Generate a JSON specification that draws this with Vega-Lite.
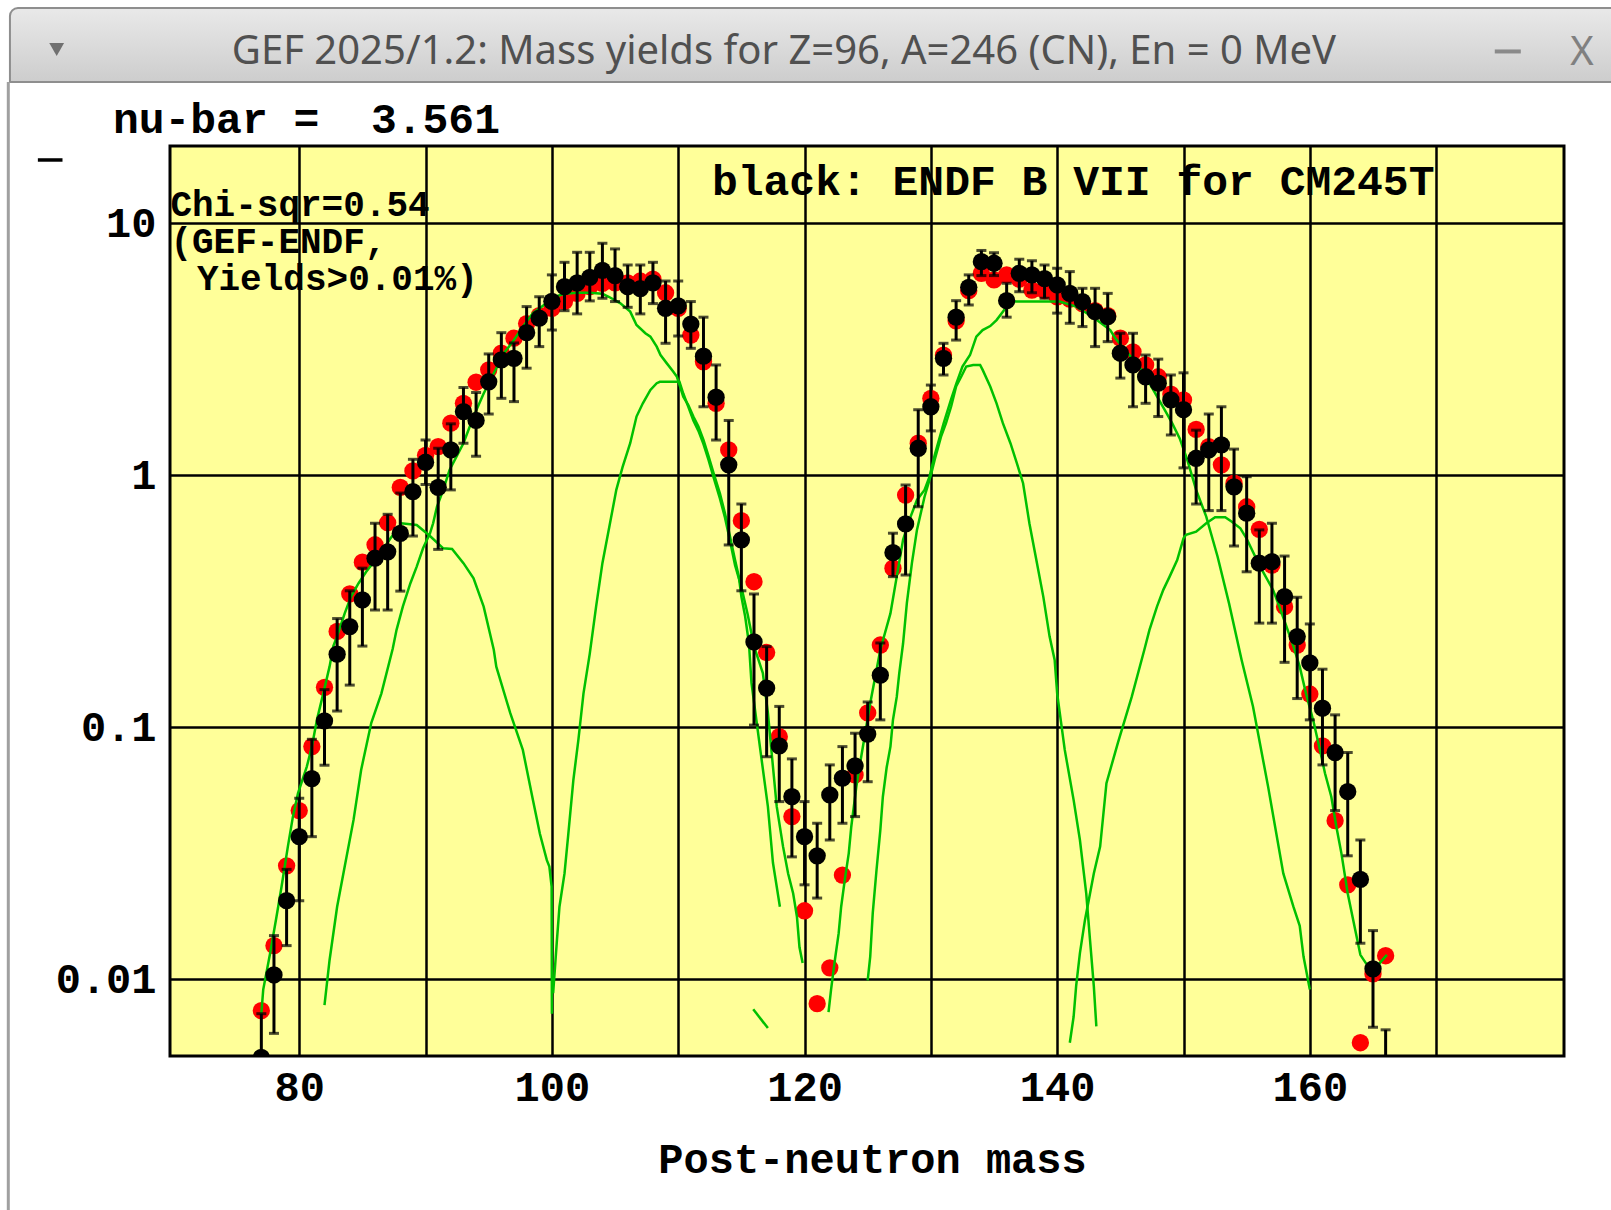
{
  "$schema": "https://vega.github.io/schema/vega-lite/v6.json",
  "width": 1394,
  "height": 910,
  "autosize": {"type": "none"},
  "padding": {"left": 170, "top": 146, "right": 47, "bottom": 154},
  "background": "white",
  "config": {
    "view": {"fill": "#ffff99", "stroke": "black", "strokeWidth": 3},
    "axis": {
      "labelFont": "Liberation Mono", "labelFontWeight": "bold", "labelFontSize": 42, "labelColor": "black",
      "titleFont": "Liberation Mono", "titleFontWeight": "bold", "titleFontSize": 42, "titleColor": "black",
      "grid": true, "gridColor": "black", "gridWidth": 2.5, "gridOpacity": 1,
      "ticks": false, "tickSize": 0, "domain": false, "labelOverlap": false, "labelBound": false, "labelFlush": false
    }
  },
  "datasets": {
    "pts": [
      {"A":77,"gef":0.0075,"endf":0.0049,"lo":0.0035,"hi":0.0073},
      {"A":78,"gef":0.0136,"endf":0.0104,"lo":0.0061,"hi":0.0149},
      {"A":79,"gef":0.0282,"endf":0.0205,"lo":0.0136,"hi":0.0273},
      {"A":80,"gef":0.0467,"endf":0.0368,"lo":0.0205,"hi":0.0523},
      {"A":81,"gef":0.0838,"endf":0.0625,"lo":0.0368,"hi":0.0896},
      {"A":82,"gef":0.144,"endf":0.106,"lo":0.0707,"hi":0.141},
      {"A":83,"gef":0.24,"endf":0.195,"lo":0.116,"hi":0.27},
      {"A":84,"gef":0.338,"endf":0.251,"lo":0.147,"hi":0.348},
      {"A":85,"gef":0.452,"endf":0.32,"lo":0.21,"hi":0.428},
      {"A":86,"gef":0.53,"endf":0.469,"lo":0.292,"hi":0.645},
      {"A":87,"gef":0.648,"endf":0.497,"lo":0.292,"hi":0.70},
      {"A":88,"gef":0.896,"endf":0.588,"lo":0.347,"hi":0.85},
      {"A":89,"gef":1.04,"endf":0.861,"lo":0.574,"hi":1.157},
      {"A":90,"gef":1.2,"endf":1.126,"lo":0.92,"hi":1.38},
      {"A":91,"gef":1.3,"endf":0.896,"lo":0.508,"hi":1.28},
      {"A":92,"gef":1.61,"endf":1.26,"lo":0.875,"hi":1.6},
      {"A":93,"gef":1.93,"endf":1.79,"lo":1.34,"hi":2.23},
      {"A":94,"gef":2.34,"endf":1.65,"lo":1.19,"hi":2.13},
      {"A":95,"gef":2.62,"endf":2.35,"lo":1.75,"hi":3.03},
      {"A":96,"gef":3.05,"endf":2.87,"lo":2.02,"hi":3.68},
      {"A":97,"gef":3.5,"endf":2.91,"lo":1.96,"hi":3.35},
      {"A":98,"gef":4.0,"endf":3.68,"lo":2.66,"hi":4.67},
      {"A":99,"gef":4.3,"endf":4.2,"lo":3.24,"hi":5.11},
      {"A":100,"gef":4.6,"endf":4.9,"lo":3.77,"hi":6.24},
      {"A":101,"gef":4.9,"endf":5.6,"lo":4.5,"hi":7.0},
      {"A":102,"gef":5.27,"endf":5.8,"lo":4.37,"hi":7.67},
      {"A":103,"gef":5.6,"endf":6.1,"lo":4.92,"hi":7.67},
      {"A":104,"gef":5.78,"endf":6.5,"lo":5.04,"hi":8.33},
      {"A":105,"gef":5.8,"endf":6.2,"lo":4.89,"hi":7.91},
      {"A":106,"gef":5.8,"endf":5.6,"lo":4.64,"hi":6.83},
      {"A":107,"gef":5.9,"endf":5.5,"lo":4.37,"hi":6.83},
      {"A":108,"gef":6.0,"endf":5.8,"lo":4.8,"hi":7.0},
      {"A":109,"gef":5.3,"endf":4.6,"lo":3.34,"hi":5.9},
      {"A":110,"gef":4.6,"endf":4.7,"lo":3.57,"hi":5.9},
      {"A":111,"gef":3.6,"endf":3.98,"lo":3.19,"hi":4.89},
      {"A":112,"gef":2.82,"endf":2.97,"lo":1.87,"hi":4.24},
      {"A":113,"gef":1.93,"endf":2.04,"lo":1.38,"hi":2.74},
      {"A":114,"gef":1.26,"endf":1.10,"lo":0.529,"hi":1.65},
      {"A":115,"gef":0.66,"endf":0.554,"lo":0.348,"hi":0.769},
      {"A":116,"gef":0.378,"endf":0.218,"lo":0.102,"hi":0.338},
      {"A":117,"gef":0.198,"endf":0.143,"lo":0.0764,"hi":0.209},
      {"A":118,"gef":0.0918,"endf":0.0843,"lo":0.0507,"hi":0.121},
      {"A":119,"gef":0.0442,"endf":0.053,"lo":0.0306,"hi":0.0749},
      {"A":120,"gef":0.0187,"endf":0.0368,"lo":0.0237,"hi":0.0507},
      {"A":121,"gef":0.008,"endf":0.0309,"lo":0.021,"hi":0.0416},
      {"A":122,"gef":0.0111,"endf":0.0539,"lo":0.0357,"hi":0.0709},
      {"A":123,"gef":0.0259,"endf":0.0628,"lo":0.0416,"hi":0.0838},
      {"A":124,"gef":0.0647,"endf":0.0702,"lo":0.0442,"hi":0.0947},
      {"A":125,"gef":0.114,"endf":0.094,"lo":0.0608,"hi":0.126},
      {"A":126,"gef":0.212,"endf":0.161,"lo":0.107,"hi":0.216},
      {"A":127,"gef":0.428,"endf":0.493,"lo":0.396,"hi":0.589},
      {"A":128,"gef":0.835,"endf":0.641,"lo":0.402,"hi":0.915},
      {"A":129,"gef":1.34,"endf":1.28,"lo":0.75,"hi":1.82},
      {"A":130,"gef":2.02,"endf":1.87,"lo":1.5,"hi":2.28},
      {"A":131,"gef":3.0,"endf":2.91,"lo":2.5,"hi":3.34},
      {"A":132,"gef":4.1,"endf":4.24,"lo":3.44,"hi":4.93},
      {"A":133,"gef":5.4,"endf":5.57,"lo":4.74,"hi":6.24},
      {"A":134,"gef":6.33,"endf":7.04,"lo":6.2,"hi":7.8},
      {"A":135,"gef":5.96,"endf":6.94,"lo":6.2,"hi":7.64},
      {"A":136,"gef":6.24,"endf":4.93,"lo":4.24,"hi":5.78},
      {"A":137,"gef":6.0,"endf":6.33,"lo":5.35,"hi":7.2},
      {"A":138,"gef":5.43,"endf":6.24,"lo":5.3,"hi":7.1},
      {"A":139,"gef":5.4,"endf":6.03,"lo":5.04,"hi":6.83},
      {"A":140,"gef":5.1,"endf":5.69,"lo":4.4,"hi":6.63},
      {"A":141,"gef":5.0,"endf":5.27,"lo":4.01,"hi":6.43},
      {"A":142,"gef":4.8,"endf":4.89,"lo":3.89,"hi":5.52},
      {"A":143,"gef":4.5,"endf":4.46,"lo":3.24,"hi":5.52},
      {"A":144,"gef":4.3,"endf":4.26,"lo":3.39,"hi":5.27},
      {"A":145,"gef":3.5,"endf":3.05,"lo":2.43,"hi":3.66},
      {"A":146,"gef":3.09,"endf":2.74,"lo":1.87,"hi":3.66},
      {"A":147,"gef":2.74,"endf":2.46,"lo":1.93,"hi":3.0},
      {"A":148,"gef":2.46,"endf":2.32,"lo":1.71,"hi":2.89},
      {"A":149,"gef":2.1,"endf":1.99,"lo":1.445,"hi":2.5},
      {"A":150,"gef":1.99,"endf":1.82,"lo":1.07,"hi":2.55},
      {"A":151,"gef":1.52,"endf":1.168,"lo":0.769,"hi":1.51},
      {"A":152,"gef":1.3,"endf":1.26,"lo":0.724,"hi":1.75},
      {"A":153,"gef":1.1,"endf":1.32,"lo":0.724,"hi":1.87},
      {"A":154,"gef":0.93,"endf":0.90,"lo":0.524,"hi":1.27},
      {"A":155,"gef":0.75,"endf":0.707,"lo":0.414,"hi":0.987},
      {"A":156,"gef":0.61,"endf":0.448,"lo":0.259,"hi":0.607},
      {"A":157,"gef":0.44,"endf":0.454,"lo":0.259,"hi":0.645},
      {"A":158,"gef":0.301,"endf":0.33,"lo":0.181,"hi":0.478},
      {"A":159,"gef":0.212,"endf":0.229,"lo":0.130,"hi":0.328},
      {"A":160,"gef":0.1355,"endf":0.180,"lo":0.107,"hi":0.257},
      {"A":161,"gef":0.0843,"endf":0.119,"lo":0.0709,"hi":0.170},
      {"A":162,"gef":0.0426,"endf":0.0794,"lo":0.0467,"hi":0.112},
      {"A":163,"gef":0.0237,"endf":0.0555,"lo":0.0309,"hi":0.0794},
      {"A":164,"gef":0.0056,"endf":0.0249,"lo":0.0139,"hi":0.0357},
      {"A":165,"gef":0.0105,"endf":0.011,"lo":0.00645,"hi":0.0156},
      {"A":166,"gef":0.0124,"endf":0.0035,"lo":0.002,"hi":0.0063}
    ],
    "green": [
      {"c":"g1","A":82.0,"y":0.0079},{"c":"g1","A":82.4,"y":0.0119},{"c":"g1","A":83.0,"y":0.0194},{"c":"g1","A":83.6,"y":0.028},
      {"c":"g1","A":84.3,"y":0.0429},{"c":"g1","A":84.9,"y":0.0677},{"c":"g1","A":85.7,"y":0.104},{"c":"g1","A":86.5,"y":0.136},
      {"c":"g1","A":87.4,"y":0.205},{"c":"g1","A":87.7,"y":0.243},{"c":"g1","A":88.2,"y":0.301},{"c":"g1","A":88.8,"y":0.373},
      {"c":"g1","A":89.3,"y":0.434},{"c":"g1","A":89.8,"y":0.513},{"c":"g1","A":90.35,"y":0.588},{"c":"g1","A":90.6,"y":0.645},
      {"c":"g1","A":90.9,"y":0.75},{"c":"g1","A":91.4,"y":0.875},{"c":"g1","A":91.9,"y":1.05},{"c":"g1","A":93.0,"y":1.34},
      {"c":"g1","A":93.8,"y":1.71},{"c":"g1","A":94.6,"y":2.11},{"c":"g1","A":95.4,"y":2.54},{"c":"g1","A":96.2,"y":3.05},
      {"c":"g1","A":97.0,"y":3.44},{"c":"g1","A":97.7,"y":3.89},{"c":"g1","A":98.5,"y":4.4},{"c":"g1","A":99.4,"y":4.75},
      {"c":"g1","A":100.2,"y":5.1},{"c":"g1","A":101.0,"y":5.25},{"c":"g1","A":102.0,"y":5.3},{"c":"g1","A":103.0,"y":5.3},
      {"c":"g1","A":104.0,"y":5.25},{"c":"g1","A":104.5,"y":5.11},{"c":"g1","A":105.4,"y":4.82},{"c":"g1","A":106.2,"y":4.46},
      {"c":"g1","A":106.7,"y":3.95},{"c":"g1","A":107.4,"y":3.66},{"c":"g1","A":107.8,"y":3.55},{"c":"g1","A":108.3,"y":3.24},
      {"c":"g1","A":108.6,"y":3.0},{"c":"g1","A":109.1,"y":2.78},{"c":"g1","A":109.6,"y":2.58},{"c":"g1","A":109.9,"y":2.46},
      {"c":"g1","A":110.4,"y":2.05},{"c":"g1","A":110.8,"y":1.9},{"c":"g1","A":111.2,"y":1.71},{"c":"g1","A":111.6,"y":1.56},
      {"c":"g1","A":112.0,"y":1.38},{"c":"g1","A":112.4,"y":1.19},{"c":"g1","A":112.8,"y":1.02},{"c":"g1","A":113.3,"y":0.848},
      {"c":"g1","A":113.7,"y":0.707},{"c":"g1","A":114.1,"y":0.571},{"c":"g1","A":114.5,"y":0.461},{"c":"g1","A":114.8,"y":0.396},
      {"c":"g1","A":115.0,"y":0.33},{"c":"g1","A":115.3,"y":0.275},{"c":"g1","A":115.6,"y":0.215},{"c":"g1","A":115.8,"y":0.15},
      {"c":"g1","A":116.5,"y":0.0813},{"c":"g1","A":117.1,"y":0.0484},{"c":"g1","A":117.5,"y":0.029},{"c":"g1","A":118.05,"y":0.0194},

      {"c":"g2","A":77.0,"y":0.0073},{"c":"g2","A":77.15,"y":0.0091},{"c":"g2","A":77.7,"y":0.0127},{"c":"g2","A":78.2,"y":0.0177},
      {"c":"g2","A":78.6,"y":0.0233},{"c":"g2","A":79.1,"y":0.0336},{"c":"g2","A":79.5,"y":0.0442},{"c":"g2","A":79.9,"y":0.0547},
      {"c":"g2","A":80.6,"y":0.0698},{"c":"g2","A":81.0,"y":0.0838},{"c":"g2","A":81.4,"y":0.107},{"c":"g2","A":81.9,"y":0.136},
      {"c":"g2","A":82.4,"y":0.174},{"c":"g2","A":82.7,"y":0.21},{"c":"g2","A":83.0,"y":0.23},{"c":"g2","A":83.6,"y":0.283},
      {"c":"g2","A":84.1,"y":0.33},{"c":"g2","A":84.7,"y":0.373},{"c":"g2","A":85.3,"y":0.414},{"c":"g2","A":86.3,"y":0.48},
      {"c":"g2","A":87.2,"y":0.56},{"c":"g2","A":88.1,"y":0.645},{"c":"g2","A":89.3,"y":0.635},{"c":"g2","A":90.35,"y":0.574},
      {"c":"g2","A":91.4,"y":0.513},{"c":"g2","A":92.1,"y":0.51},{"c":"g2","A":93.0,"y":0.448},{"c":"g2","A":93.8,"y":0.39},
      {"c":"g2","A":94.6,"y":0.301},{"c":"g2","A":95.4,"y":0.203},{"c":"g2","A":95.6,"y":0.174},{"c":"g2","A":96.7,"y":0.114},
      {"c":"g2","A":97.7,"y":0.0813},{"c":"g2","A":98.5,"y":0.0515},{"c":"g2","A":99.05,"y":0.0378},{"c":"g2","A":99.6,"y":0.0297},
      {"c":"g2","A":99.8,"y":0.028},{"c":"g2","A":99.98,"y":0.0233},{"c":"g2","A":100.0,"y":0.0073},

      {"c":"g3","A":100.1,"y":0.0088},{"c":"g3","A":100.4,"y":0.0143},{"c":"g3","A":100.6,"y":0.0194},{"c":"g3","A":101.0,"y":0.0263},
      {"c":"g3","A":101.3,"y":0.0377},{"c":"g3","A":101.7,"y":0.0617},{"c":"g3","A":102.1,"y":0.0893},{"c":"g3","A":102.5,"y":0.136},
      {"c":"g3","A":103.0,"y":0.196},{"c":"g3","A":103.5,"y":0.301},{"c":"g3","A":104.0,"y":0.448},{"c":"g3","A":104.6,"y":0.645},
      {"c":"g3","A":105.1,"y":0.875},{"c":"g3","A":105.6,"y":1.08},{"c":"g3","A":106.2,"y":1.34},{"c":"g3","A":106.7,"y":1.71},
      {"c":"g3","A":107.2,"y":1.93},{"c":"g3","A":107.8,"y":2.18},{"c":"g3","A":108.3,"y":2.32},{"c":"g3","A":108.55,"y":2.35},
      {"c":"g3","A":110.1,"y":2.35},{"c":"g3","A":110.4,"y":2.11},{"c":"g3","A":110.8,"y":1.87},{"c":"g3","A":111.2,"y":1.65},
      {"c":"g3","A":111.6,"y":1.5},{"c":"g3","A":112.0,"y":1.33},{"c":"g3","A":112.4,"y":1.15},{"c":"g3","A":112.8,"y":0.98},
      {"c":"g3","A":113.3,"y":0.81},{"c":"g3","A":113.7,"y":0.68},{"c":"g3","A":114.1,"y":0.55},{"c":"g3","A":114.5,"y":0.44},
      {"c":"g3","A":115.0,"y":0.36},{"c":"g3","A":115.5,"y":0.28},{"c":"g3","A":116.0,"y":0.21},{"c":"g3","A":116.7,"y":0.164},
      {"c":"g3","A":117.1,"y":0.114},{"c":"g3","A":117.5,"y":0.0698},{"c":"g3","A":117.8,"y":0.0484},{"c":"g3","A":118.3,"y":0.0336},
      {"c":"g3","A":118.7,"y":0.0263},{"c":"g3","A":119.1,"y":0.0219},{"c":"g3","A":119.4,"y":0.0177},{"c":"g3","A":119.6,"y":0.0134},
      {"c":"g3","A":119.85,"y":0.0116},

      {"c":"g4","A":115.94,"y":0.0076},{"c":"g4","A":117.1,"y":0.0064},

      {"c":"g5","A":121.9,"y":0.0074},{"c":"g5","A":122.1,"y":0.0091},{"c":"g5","A":122.4,"y":0.0119},{"c":"g5","A":122.7,"y":0.0152},
      {"c":"g5","A":122.9,"y":0.0194},{"c":"g5","A":123.2,"y":0.0251},{"c":"g5","A":123.5,"y":0.0316},{"c":"g5","A":123.7,"y":0.0403},
      {"c":"g5","A":124.1,"y":0.058},{"c":"g5","A":124.4,"y":0.072},{"c":"g5","A":124.8,"y":0.0947},{"c":"g5","A":125.2,"y":0.1245},
      {"c":"g5","A":125.6,"y":0.159},{"c":"g5","A":126.0,"y":0.203},{"c":"g5","A":126.8,"y":0.283},{"c":"g5","A":127.3,"y":0.396},
      {"c":"g5","A":127.8,"y":0.554},{"c":"g5","A":128.3,"y":0.665},{"c":"g5","A":128.9,"y":0.798},{"c":"g5","A":129.5,"y":0.874},
      {"c":"g5","A":129.9,"y":0.99},{"c":"g5","A":130.3,"y":1.2},{"c":"g5","A":131.0,"y":1.6},{"c":"g5","A":131.6,"y":2.0},
      {"c":"g5","A":132.0,"y":2.3},{"c":"g5","A":132.5,"y":2.7},{"c":"g5","A":133.1,"y":3.0},{"c":"g5","A":133.6,"y":3.55},
      {"c":"g5","A":134.1,"y":3.77},{"c":"g5","A":134.7,"y":3.91},{"c":"g5","A":135.2,"y":4.13},{"c":"g5","A":135.7,"y":4.46},
      {"c":"g5","A":136.3,"y":4.89},{"c":"g5","A":140.2,"y":4.89},{"c":"g5","A":141.5,"y":4.67},{"c":"g5","A":142.8,"y":4.26},
      {"c":"g5","A":144.2,"y":3.77},{"c":"g5","A":144.6,"y":3.5},{"c":"g5","A":145.6,"y":3.05},{"c":"g5","A":146.7,"y":2.62},
      {"c":"g5","A":148.5,"y":1.82},{"c":"g5","A":149.1,"y":1.61},{"c":"g5","A":149.7,"y":1.40},{"c":"g5","A":150.3,"y":1.15},
      {"c":"g5","A":151.0,"y":0.875},{"c":"g5","A":151.8,"y":0.685},{"c":"g5","A":152.7,"y":0.475},{"c":"g5","A":153.6,"y":0.311},
      {"c":"g5","A":154.6,"y":0.185},{"c":"g5","A":155.5,"y":0.121},{"c":"g5","A":156.7,"y":0.058},{"c":"g5","A":157.9,"y":0.0263},
      {"c":"g5","A":158.7,"y":0.0194},{"c":"g5","A":159.2,"y":0.0163},{"c":"g5","A":159.5,"y":0.0123},{"c":"g5","A":160.0,"y":0.0091},

      {"c":"g6","A":125.0,"y":0.0099},{"c":"g6","A":125.2,"y":0.0123},{"c":"g6","A":125.4,"y":0.0183},{"c":"g6","A":125.7,"y":0.0272},
      {"c":"g6","A":126.0,"y":0.0391},{"c":"g6","A":126.2,"y":0.053},{"c":"g6","A":126.5,"y":0.0692},{"c":"g6","A":126.8,"y":0.0838},
      {"c":"g6","A":127.0,"y":0.107},{"c":"g6","A":127.3,"y":0.132},{"c":"g6","A":127.5,"y":0.164},{"c":"g6","A":127.8,"y":0.215},
      {"c":"g6","A":128.1,"y":0.311},{"c":"g6","A":128.5,"y":0.448},{"c":"g6","A":128.9,"y":0.607},{"c":"g6","A":129.5,"y":0.822},
      {"c":"g6","A":130.0,"y":1.0},{"c":"g6","A":130.3,"y":1.15},{"c":"g6","A":130.8,"y":1.42},{"c":"g6","A":131.2,"y":1.61},
      {"c":"g6","A":131.6,"y":1.87},{"c":"g6","A":132.0,"y":2.25},{"c":"g6","A":132.4,"y":2.46},{"c":"g6","A":132.8,"y":2.70},
      {"c":"g6","A":133.35,"y":2.74},{"c":"g6","A":133.9,"y":2.74},{"c":"g6","A":134.1,"y":2.62},{"c":"g6","A":134.7,"y":2.25},
      {"c":"g6","A":135.2,"y":1.93},{"c":"g6","A":135.7,"y":1.61},{"c":"g6","A":136.3,"y":1.34},{"c":"g6","A":136.8,"y":1.12},
      {"c":"g6","A":137.3,"y":0.93},{"c":"g6","A":137.8,"y":0.645},{"c":"g6","A":138.4,"y":0.448},{"c":"g6","A":138.9,"y":0.33},
      {"c":"g6","A":139.4,"y":0.229},{"c":"g6","A":139.8,"y":0.185},{"c":"g6","A":140.0,"y":0.136},{"c":"g6","A":140.6,"y":0.0813},
      {"c":"g6","A":141.3,"y":0.0515},{"c":"g6","A":141.8,"y":0.0357},{"c":"g6","A":142.3,"y":0.0219},{"c":"g6","A":142.6,"y":0.0143},
      {"c":"g6","A":142.9,"y":0.0094},{"c":"g6","A":143.1,"y":0.0065},

      {"c":"g7","A":141.0,"y":0.0056},{"c":"g7","A":141.3,"y":0.0071},{"c":"g7","A":141.5,"y":0.0094},{"c":"g7","A":141.8,"y":0.0127},
      {"c":"g7","A":142.2,"y":0.0172},{"c":"g7","A":142.6,"y":0.0219},{"c":"g7","A":142.9,"y":0.0263},{"c":"g7","A":143.4,"y":0.0336},
      {"c":"g7","A":143.9,"y":0.06},{"c":"g7","A":144.8,"y":0.0865},{"c":"g7","A":145.9,"y":0.132},{"c":"g7","A":146.9,"y":0.203},
      {"c":"g7","A":147.3,"y":0.243},{"c":"g7","A":147.9,"y":0.301},{"c":"g7","A":148.4,"y":0.351},{"c":"g7","A":148.9,"y":0.396},
      {"c":"g7","A":149.5,"y":0.461},{"c":"g7","A":150.0,"y":0.562},{"c":"g7","A":150.2,"y":0.58},{"c":"g7","A":151.0,"y":0.597},
      {"c":"g7","A":151.8,"y":0.645},{"c":"g7","A":152.5,"y":0.681},{"c":"g7","A":153.3,"y":0.681},{"c":"g7","A":153.8,"y":0.655},
      {"c":"g7","A":154.5,"y":0.616},{"c":"g7","A":155.0,"y":0.56},{"c":"g7","A":156.0,"y":0.44},{"c":"g7","A":157.1,"y":0.35},
      {"c":"g7","A":157.6,"y":0.30},{"c":"g7","A":158.7,"y":0.21},{"c":"g7","A":159.2,"y":0.174},{"c":"g7","A":159.7,"y":0.136},
      {"c":"g7","A":160.3,"y":0.105},{"c":"g7","A":160.8,"y":0.0813},{"c":"g7","A":161.2,"y":0.0657},{"c":"g7","A":161.7,"y":0.053},
      {"c":"g7","A":162.1,"y":0.0403},{"c":"g7","A":162.5,"y":0.0316},{"c":"g7","A":163.0,"y":0.0219},{"c":"g7","A":164.0,"y":0.0125},
      {"c":"g7","A":165.0,"y":0.0105},{"c":"g7","A":165.6,"y":0.0117},{"c":"g7","A":166.1,"y":0.0125}
    ]
  },
  "layer": [
    {
      "data": {"name": "pts"},
      "mark": {"type": "point", "filled": true, "clip": true, "color": "#ff0000", "opacity": 1, "size": 300},
      "encoding": {
        "x": {"field": "A", "type": "quantitative", "scale": {"domain": [69.77, 180.12], "nice": false, "zero": false},
          "axis": {"values": [80, 90, 100, 110, 120, 130, 140, 150, 160, 170],
            "labelExpr": "(datum.value % 20 == 0 && datum.value <= 160) ? datum.label : ''",
            "labelPadding": 44, "labelBaseline": "alphabetic",
            "title": "Post-neutron mass", "titleX": 702, "titleY": 116, "titleBaseline": "alphabetic", "titleAlign": "center"}},
        "y": {"field": "gef", "type": "quantitative", "scale": {"type": "log", "domain": [0.00496, 20.26], "nice": false},
          "axis": {"values": [0.01, 0.1, 1, 10],
            "labelExpr": "datum.value > 5 ? '10' : datum.value > 0.5 ? '1' : datum.value > 0.05 ? '0.1' : '0.01'",
            "labelPadding": 14, "labelBaseline": "middle", "title": null}}
      }
    },
    {
      "data": {"name": "green"},
      "mark": {"type": "line", "clip": true, "color": "#00c000", "strokeWidth": 2.5},
      "encoding": {
        "x": {"field": "A", "type": "quantitative", "scale": {"domain": [69.77, 180.12], "nice": false, "zero": false}},
        "y": {"field": "y", "type": "quantitative", "scale": {"type": "log", "domain": [0.00496, 20.26], "nice": false}},
        "detail": {"field": "c", "type": "nominal"}
      }
    },
    {
      "data": {"name": "pts"},
      "mark": {"type": "rule", "clip": true, "color": "black", "strokeWidth": 3},
      "encoding": {
        "x": {"field": "A", "type": "quantitative", "scale": {"domain": [69.77, 180.12], "nice": false, "zero": false}},
        "y": {"field": "lo", "type": "quantitative", "scale": {"type": "log", "domain": [0.00496, 20.26], "nice": false}},
        "y2": {"field": "hi"}
      }
    },
    {
      "data": {"name": "pts"},
      "mark": {"type": "tick", "clip": true, "orient": "horizontal", "color": "black", "size": 10, "thickness": 3},
      "encoding": {
        "x": {"field": "A", "type": "quantitative", "scale": {"domain": [69.77, 180.12], "nice": false, "zero": false}},
        "y": {"field": "lo", "type": "quantitative", "scale": {"type": "log", "domain": [0.00496, 20.26], "nice": false}}
      }
    },
    {
      "data": {"name": "pts"},
      "mark": {"type": "tick", "clip": true, "orient": "horizontal", "color": "black", "size": 10, "thickness": 3},
      "encoding": {
        "x": {"field": "A", "type": "quantitative", "scale": {"domain": [69.77, 180.12], "nice": false, "zero": false}},
        "y": {"field": "hi", "type": "quantitative", "scale": {"type": "log", "domain": [0.00496, 20.26], "nice": false}}
      }
    },
    {
      "data": {"name": "pts"},
      "mark": {"type": "point", "filled": true, "clip": true, "color": "black", "opacity": 1, "size": 300},
      "encoding": {
        "x": {"field": "A", "type": "quantitative", "scale": {"domain": [69.77, 180.12], "nice": false, "zero": false}},
        "y": {"field": "endf", "type": "quantitative", "scale": {"type": "log", "domain": [0.00496, 20.26], "nice": false}}
      }
    },
    {
      "data": {"values": [{}]},
      "mark": {"type": "rect", "clip": false, "stroke": "#8e8e8e", "strokeWidth": 2, "cornerRadiusTopLeft": 8,
        "fill": {"gradient": "linear", "x1": 0, "y1": 0, "x2": 0, "y2": 1,
          "stops": [{"offset": 0, "color": "#e9e9e9"}, {"offset": 1, "color": "#cdcdcd"}]}},
      "encoding": {
        "x": {"datum": 57.1, "type": "quantitative", "scale": {"domain": [69.77, 180.12], "nice": false, "zero": false}},
        "x2": {"datum": 186},
        "y": {"datum": 71.5, "type": "quantitative", "scale": {"type": "log", "domain": [0.00496, 20.26], "nice": false}},
        "y2": {"datum": 36.38}
      }
    },
    {
      "data": {"values": [{}]},
      "mark": {"type": "rule", "clip": false, "color": "#a0a0a0", "strokeWidth": 3},
      "encoding": {
        "x": {"datum": 56.97, "type": "quantitative", "scale": {"domain": [69.77, 180.12], "nice": false, "zero": false}},
        "y": {"datum": 36.38, "type": "quantitative", "scale": {"type": "log", "domain": [0.00496, 20.26], "nice": false}},
        "y2": {"datum": 0.0012}
      }
    },
    {
      "data": {"values": [{}]},
      "mark": {"type": "text", "clip": false, "text": "GEF 2025/1.2: Mass yields for Z=96, A=246 (CN), En = 0 MeV", "align": "center", "baseline": "alphabetic", "font": "Noto Sans", "fontSize": 40, "fill": "#505050"},
      "encoding": {
        "x": {"datum": 118.37, "type": "quantitative", "scale": {"domain": [69.77, 180.12], "nice": false, "zero": false}},
        "y": {"datum": 42.87, "type": "quantitative", "scale": {"type": "log", "domain": [0.00496, 20.26], "nice": false}}
      }
    },
    {
      "data": {"values": [{}]},
      "mark": {"type": "point", "clip": false, "shape": "triangle-down", "filled": true, "size": 220, "color": "#707070", "opacity": 1},
      "encoding": {
        "x": {"datum": 60.8, "type": "quantitative", "scale": {"domain": [69.77, 180.12], "nice": false, "zero": false}},
        "y": {"datum": 48.95, "type": "quantitative", "scale": {"type": "log", "domain": [0.00496, 20.26], "nice": false}}
      }
    },
    {
      "data": {"values": [{}]},
      "mark": {"type": "rule", "clip": false, "color": "#8a8a8a", "strokeWidth": 4},
      "encoding": {
        "x": {"datum": 174.64, "type": "quantitative", "scale": {"domain": [69.77, 180.12], "nice": false, "zero": false}},
        "x2": {"datum": 176.7},
        "y": {"datum": 48.06, "type": "quantitative", "scale": {"type": "log", "domain": [0.00496, 20.26], "nice": false}}
      }
    },
    {
      "data": {"values": [{}]},
      "mark": {"type": "text", "clip": false, "text": "X", "align": "center", "baseline": "alphabetic", "font": "Noto Sans", "fontSize": 40, "fill": "#808080"},
      "encoding": {
        "x": {"datum": 181.54, "type": "quantitative", "scale": {"domain": [69.77, 180.12], "nice": false, "zero": false}},
        "y": {"datum": 42.5, "type": "quantitative", "scale": {"type": "log", "domain": [0.00496, 20.26], "nice": false}}
      }
    },
    {
      "data": {"values": [{}]},
      "mark": {"type": "text", "clip": false, "text": "nu-bar = \u00a03.561", "align": "left", "baseline": "alphabetic", "font": "Liberation Mono", "fontWeight": "bold", "fontSize": 43, "fill": "black"},
      "encoding": {
        "x": {"datum": 65.25, "type": "quantitative", "scale": {"domain": [69.77, 180.12], "nice": false, "zero": false}},
        "y": {"datum": 22.82, "type": "quantitative", "scale": {"type": "log", "domain": [0.00496, 20.26], "nice": false}}
      }
    },
    {
      "data": {"values": [{}]},
      "mark": {"type": "rule", "clip": false, "color": "black", "strokeWidth": 3.5},
      "encoding": {
        "x": {"datum": 59.31, "type": "quantitative", "scale": {"domain": [69.77, 180.12], "nice": false, "zero": false}},
        "x2": {"datum": 61.26},
        "y": {"datum": 17.83, "type": "quantitative", "scale": {"type": "log", "domain": [0.00496, 20.26], "nice": false}}
      }
    },
    {
      "data": {"values": [{}]},
      "mark": {"type": "text", "clip": false, "text": "Chi-sqr=0.54", "align": "left", "baseline": "alphabetic", "font": "Liberation Mono", "fontWeight": "bold", "fontSize": 36, "fill": "black"},
      "encoding": {
        "x": {"datum": 69.8, "type": "quantitative", "scale": {"domain": [69.77, 180.12], "nice": false, "zero": false}},
        "y": {"datum": 10.69, "type": "quantitative", "scale": {"type": "log", "domain": [0.00496, 20.26], "nice": false}}
      }
    },
    {
      "data": {"values": [{}]},
      "mark": {"type": "text", "clip": false, "text": "(GEF-ENDF,", "align": "left", "baseline": "alphabetic", "font": "Liberation Mono", "fontWeight": "bold", "fontSize": 36, "fill": "black"},
      "encoding": {
        "x": {"datum": 69.8, "type": "quantitative", "scale": {"domain": [69.77, 180.12], "nice": false, "zero": false}},
        "y": {"datum": 7.62, "type": "quantitative", "scale": {"type": "log", "domain": [0.00496, 20.26], "nice": false}}
      }
    },
    {
      "data": {"values": [{}]},
      "mark": {"type": "text", "clip": false, "text": "Yields>0.01%)", "align": "left", "baseline": "alphabetic", "font": "Liberation Mono", "fontWeight": "bold", "fontSize": 36, "fill": "black"},
      "encoding": {
        "x": {"datum": 71.9, "type": "quantitative", "scale": {"domain": [69.77, 180.12], "nice": false, "zero": false}},
        "y": {"datum": 5.44, "type": "quantitative", "scale": {"type": "log", "domain": [0.00496, 20.26], "nice": false}}
      }
    },
    {
      "data": {"values": [{}]},
      "mark": {"type": "text", "clip": false, "text": "black: ENDF B VII for CM245T", "align": "left", "baseline": "alphabetic", "font": "Liberation Mono", "fontWeight": "bold", "fontSize": 43, "fill": "black"},
      "encoding": {
        "x": {"datum": 112.67, "type": "quantitative", "scale": {"domain": [69.77, 180.12], "nice": false, "zero": false}},
        "y": {"datum": 12.95, "type": "quantitative", "scale": {"type": "log", "domain": [0.00496, 20.26], "nice": false}}
      }
    }
  ]
}
